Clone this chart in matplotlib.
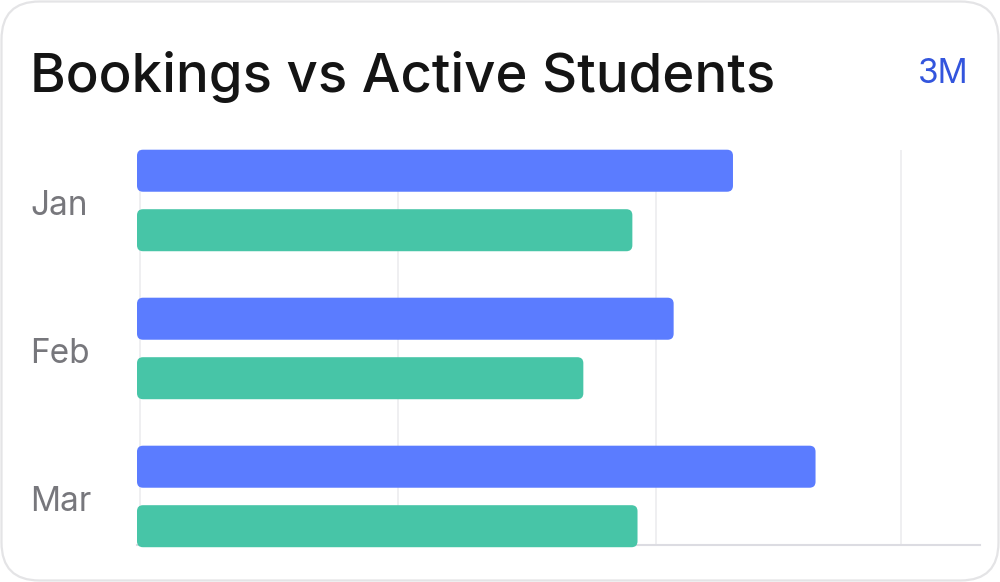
import matplotlib
matplotlib.use("Agg")
import matplotlib.pyplot as plt
import numpy as np
from matplotlib.patches import FancyBboxPatch
import matplotlib.transforms as mtransforms

# ---- data ----
months = ["Jan", "Feb", "Mar"]
bookings = [231, 208, 263]
active_students = [192, 173, 194]
grid_positions = [1.2, 101.2, 201, 296]

title = "Bookings vs Active Students"
range_label = "3M"

BLUE = "#5b7cff"
GREEN = "#47c5a7"

plt.rcParams['font.family'] = ['Inter', 'DejaVu Sans']

W, H = 1000, 582
fig = plt.figure(figsize=(W / 100, H / 100), dpi=100)
fig.patch.set_facecolor("white")

# card background
bg = fig.add_axes([0, 0, 1, 1], zorder=0)
bg.set_xlim(0, W)
bg.set_ylim(0, H)
bg.axis("off")
card = FancyBboxPatch((1.5, 1.5), W - 3, H - 3,
                      boxstyle="round,pad=0,rounding_size=38",
                      facecolor="white", edgecolor="#e4e4e6", linewidth=1.6)
bg.add_patch(card)

# main axes (pixel geometry)
left_px, right_px, top_px, bot_px = 137, 980, 150, 545
ax = fig.add_axes([left_px / W, 1 - bot_px / H, (right_px - left_px) / W,
                   (bot_px - top_px) / H], zorder=1)
ax.patch.set_alpha(0)

y = np.arange(len(months))
off = 0.201
h = 0.284
b1 = ax.barh(y - off, bookings, height=h, color=BLUE)
b2 = ax.barh(y + off, active_students, height=h, color=GREEN)

xmax = (right_px - left_px) / 2.58
ax.set_xlim(0, xmax)
ax.set_ylim(2.328, -0.341)

# rounded bars
px_per_x = (right_px - left_px) / xmax
px_per_y = (bot_px - top_px) / (2.328 + 0.341)
r_px = 6
for bars in (b1, b2):
    for p in bars:
        x0, y0 = p.get_x(), p.get_y()
        w, hh = p.get_width(), p.get_height()
        fb = FancyBboxPatch((x0, y0), w, hh,
                            boxstyle=f"round,pad=0,rounding_size={r_px / px_per_x}",
                            mutation_aspect=px_per_x / px_per_y,
                            facecolor=p.get_facecolor(), edgecolor="none",
                            zorder=3, clip_on=False)
        p.set_visible(False)
        ax.add_patch(fb)

ax.set_xticks(grid_positions)
ax.tick_params(axis="x", length=0, labelbottom=False)
ax.grid(axis="x", color="#ececef", linewidth=1.2, zorder=0)
ax.set_axisbelow(True)

ax.set_yticks(y)
ax.set_yticklabels(months, fontsize=24, color="#77777c")
ax.tick_params(axis="y", length=0, pad=(left_px - 30) * 0.72)
shift = mtransforms.ScaledTranslation(0, -2 / 100, fig.dpi_scale_trans)
for lbl in ax.get_yticklabels():
    lbl.set_horizontalalignment("left")
    lbl.set_transform(lbl.get_transform() + shift)

for s in ("top", "right", "left"):
    ax.spines[s].set_visible(False)
ax.spines["bottom"].set_color("#dcdce2")
ax.spines["bottom"].set_linewidth(1.5)

fig.text(30 / W, 1 - 92 / H, title, fontsize=39.3, color="#141414",
         ha="left", va="baseline", fontweight="medium")
fig.text(968 / W, 1 - 83 / H, range_label, fontsize=24, color="#3355dd",
         ha="right", va="baseline")

fig.savefig("out.png", dpi=100, facecolor="white")
